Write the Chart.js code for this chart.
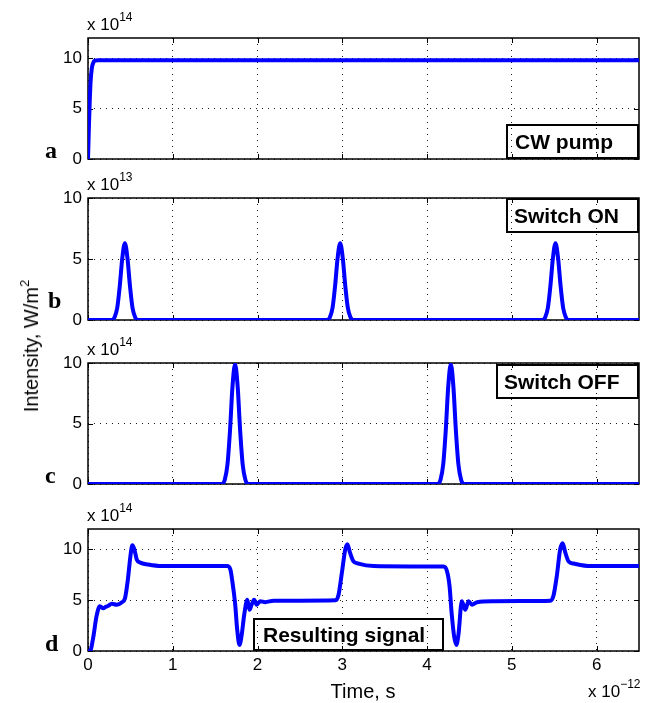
<!DOCTYPE html>
<html>
<head>
<meta charset="utf-8">
<script src="https://cdn.jsdelivr.net/npm/chart.js@4.4.1/dist/chart.umd.min.js"></script>
<style>
  html, body { margin:0; padding:0; background:#fff; }
  body { width:656px; height:703px; position:relative; overflow:hidden; font-family:"Liberation Sans", Arial, Helvetica, sans-serif; color:#000; }
  canvas { position:absolute; left:0; }
  .t { position:absolute; white-space:nowrap; line-height:17px; font-size:17px; }
  .t sup { font-size:12px; position:relative; top:-9px; vertical-align:baseline; line-height:0; }
  .lab { position:absolute; font-family:"Liberation Serif", "Times New Roman", serif; font-weight:bold; font-size:24px; line-height:24px; }
  .ax { position:absolute; font-size:20px; line-height:20px; white-space:nowrap; }
  .ax sup { font-size:13px; position:relative; top:-9px; vertical-align:baseline; line-height:0; }
  .box { position:absolute; box-sizing:border-box; border:2px solid #000; font-weight:bold; font-size:21px; display:flex; align-items:center; white-space:nowrap; }
</style>
</head>
<body>
<canvas id="pa" width="656" height="141" style="top:28px"></canvas>
<canvas id="pb" width="656" height="142" style="top:188px"></canvas>
<canvas id="pc" width="656" height="141" style="top:353px"></canvas>
<canvas id="pd" width="656" height="164" style="top:519px"></canvas>

<div class="t" style="left:87px;top:15.6px">x 10<sup>14</sup></div>
<div class="t" style="left:87px;top:175.6px">x 10<sup>13</sup></div>
<div class="t" style="left:87px;top:340.6px">x 10<sup>14</sup></div>
<div class="t" style="left:87px;top:507px">x 10<sup>14</sup></div>
<div class="t" style="left:588px;top:683.3px">x 10<sup>&minus;12</sup></div>

<div class="lab" style="left:45px;top:138px">a</div>
<div class="lab" style="left:48px;top:288px">b</div>
<div class="lab" style="left:45px;top:463px">c</div>
<div class="lab" style="left:45px;top:631px">d</div>

<div class="ax" style="left:31px;top:345.5px;transform:translate(-50%,-50%) rotate(-90deg)">Intensity, W/m<sup>2</sup></div>
<div class="ax" style="left:363px;top:681px;transform:translateX(-50%)">Time, s</div>

<div class="box" style="left:506px;top:124px;width:133px;height:35px;padding-left:7px">CW pump</div>
<div class="box" style="left:506px;top:198px;width:133px;height:35px;padding-left:6px">Switch ON</div>
<div class="box" style="left:496px;top:364px;width:143px;height:35px;padding-left:6px">Switch OFF</div>
<div class="box" style="left:253px;top:618px;width:191px;height:33px;padding-left:8px">Resulting signal</div>

<script>
// ---- tick values ----
const xTickValues = [0, 1, 2, 3, 4, 5, 6];
const yTickValues = [0, 5, 10];

// ---- panel a: CW pump (x 1e14 W/m^2), time in ps ----
const pumpTime  = [0, 0.01, 0.02, 0.03, 0.045, 0.06, 0.08, 0.12, 6.5];
const pumpValue = [0, 3.0, 5.6, 7.6, 9.0, 9.5, 9.75, 9.8, 9.8];

// ---- panel b: Switch ON pulses (x 1e13 W/m^2) ----
const onTime = [0,
  0.285, 0.315, 0.345, 0.375, 0.405, 0.435, 0.465, 0.495, 0.525, 0.555, 0.585,
  2.825, 2.855, 2.885, 2.915, 2.945, 2.975, 3.005, 3.035, 3.065, 3.095, 3.125,
  5.365, 5.395, 5.425, 5.455, 5.485, 5.515, 5.545, 5.575, 5.605, 5.635, 5.665,
  6.5];
const onValue = [0,
  0, 0.25, 1.0, 2.8, 5.1, 6.3, 5.1, 2.8, 1.0, 0.25, 0,
  0, 0.25, 1.0, 2.8, 5.1, 6.3, 5.1, 2.8, 1.0, 0.25, 0,
  0, 0.25, 1.0, 2.8, 5.1, 6.3, 5.1, 2.8, 1.0, 0.25, 0,
  0];

// ---- panel c: Switch OFF pulses (x 1e14 W/m^2) ----
const offTime = [0,
  1.585, 1.615, 1.645, 1.675, 1.705, 1.735, 1.765, 1.795, 1.825, 1.855, 1.885,
  4.13, 4.16, 4.19, 4.22, 4.25, 4.28, 4.31, 4.34, 4.37, 4.40, 4.43,
  6.5];
const offValue = [0,
  0, 0.4, 1.6, 4.4, 8.1, 9.9, 8.1, 4.4, 1.6, 0.4, 0,
  0, 0.4, 1.6, 4.4, 8.1, 9.9, 8.1, 4.4, 1.6, 0.4, 0,
  0];

// ---- panel d: resulting signal (x 1e14 W/m^2) ----
const sigTime = [0, 0.024, 0.063, 0.10, 0.14, 0.18, 0.21, 0.24, 0.28, 0.34, 0.40, 0.437,
  0.47, 0.50, 0.523, 0.547, 0.575, 0.614, 0.71, 0.87, 1.15, 1.64, 1.68, 1.70,
  1.735, 1.76, 1.787, 1.81, 1.845, 1.88, 1.905, 1.93, 1.96, 1.99, 2.03, 2.09,
  2.19, 2.5, 2.92, 2.955, 2.995, 3.035, 3.06, 3.09, 3.13, 3.19, 3.37, 3.8,
  4.195, 4.235, 4.265, 4.29, 4.32, 4.345, 4.37, 4.41, 4.45, 4.49, 4.53, 4.59,
  4.8, 5.1, 5.455, 5.49, 5.53, 5.57, 5.60, 5.63, 5.67, 5.73, 5.93, 6.5];
const sigValue = [0, 0, 1.4, 3.4, 4.4, 4.2, 4.35, 4.45, 4.65, 4.55, 4.8, 5.2,
  7.0, 9.3, 10.4, 10.0, 9.0, 8.7, 8.5, 8.35, 8.35, 8.35, 8.0, 7.0,
  4.7, 2.1, 0.6, 1.4, 3.7, 5.05, 4.05, 4.55, 5.05, 4.55, 4.9, 4.8,
  4.95, 4.95, 4.98, 5.5, 7.7, 10.0, 10.5, 9.7, 8.85, 8.6, 8.35, 8.32,
  8.3, 7.85, 6.4, 3.7, 1.4, 0.6, 1.6, 4.9, 4.05, 4.9, 4.55, 4.8,
  4.9, 4.92, 4.95, 5.4, 7.35, 10.0, 10.6, 9.7, 8.8, 8.6, 8.35, 8.35];

Chart.defaults.font.family = '"Liberation Sans", Arial, Helvetica, sans-serif';
Chart.defaults.font.size = 17;
Chart.defaults.color = '#000';

const boxPlugin = {
  id: 'matlabBox',
  beforeDatasetsDraw(chart) {
    const { ctx, chartArea: a, scales: { x, y } } = chart;
    ctx.save();
    ctx.strokeStyle = '#000';
    ctx.lineWidth = 1;
    ctx.beginPath();
    x.ticks.forEach(t => {
      const px = Math.round(x.getPixelForValue(t.value)) + 0.5;
      ctx.moveTo(px, a.bottom); ctx.lineTo(px, a.bottom - 5);
      ctx.moveTo(px, a.top); ctx.lineTo(px, a.top + 5);
    });
    y.ticks.forEach(t => {
      const py = Math.round(y.getPixelForValue(t.value)) + 0.5;
      ctx.moveTo(a.left, py); ctx.lineTo(a.left + 5, py);
      ctx.moveTo(a.right, py); ctx.lineTo(a.right - 5, py);
    });
    ctx.stroke();
    ctx.lineWidth = 1.5;
    ctx.strokeRect(a.left, a.top, a.right - a.left, a.bottom - a.top);
    ctx.restore();
  }
};

function zeroPad(s) {
  s.paddingTop = 0; s.paddingBottom = 0; s.paddingLeft = 0; s.paddingRight = 0;
}

function panel(id, time, vals, yMax, showX) {
  return new Chart(document.getElementById(id), {
    type: 'line',
    data: {
      datasets: [{
        data: time.map((t, i) => ({ x: t, y: vals[i] })),
        borderColor: '#0000ff',
        borderWidth: 4,
        pointRadius: 0,
        cubicInterpolationMode: 'monotone',
        fill: false
      }]
    },
    options: {
      responsive: false,
      animation: false,
      devicePixelRatio: 1,
      events: [],
      layout: { padding: { left: 0, right: 17, top: 10, bottom: showX ? 0 : 10 } },
      plugins: { legend: { display: false }, tooltip: { enabled: false } },
      scales: {
        x: {
          type: 'linear', min: 0, max: 6.5,
          afterBuildTicks: s => { s.ticks = xTickValues.map(v => ({ value: v })); },
          afterFit: s => { s.height = showX ? 32 : 0; zeroPad(s); },
          ticks: { display: showX, padding: 4, maxRotation: 0, autoSkip: false },
          grid: { color: '#1a1a1a', lineWidth: 1, drawTicks: false },
          border: { display: false, dash: [1, 5] }
        },
        y: {
          type: 'linear', min: 0, max: yMax,
          afterBuildTicks: s => { s.ticks = yTickValues.map(v => ({ value: v })); },
          afterFit: s => { s.width = 88; zeroPad(s); },
          ticks: { padding: 6, autoSkip: false },
          grid: { color: '#1a1a1a', lineWidth: 1, drawTicks: false },
          border: { display: false, dash: [1, 5] }
        }
      }
    },
    plugins: [boxPlugin]
  });
}

panel('pa', pumpTime, pumpValue, 12, false);
panel('pb', onTime, onValue, 10, false);
panel('pc', offTime, offValue, 10, false);
panel('pd', sigTime, sigValue, 12, true);
</script>
</body>
</html>
